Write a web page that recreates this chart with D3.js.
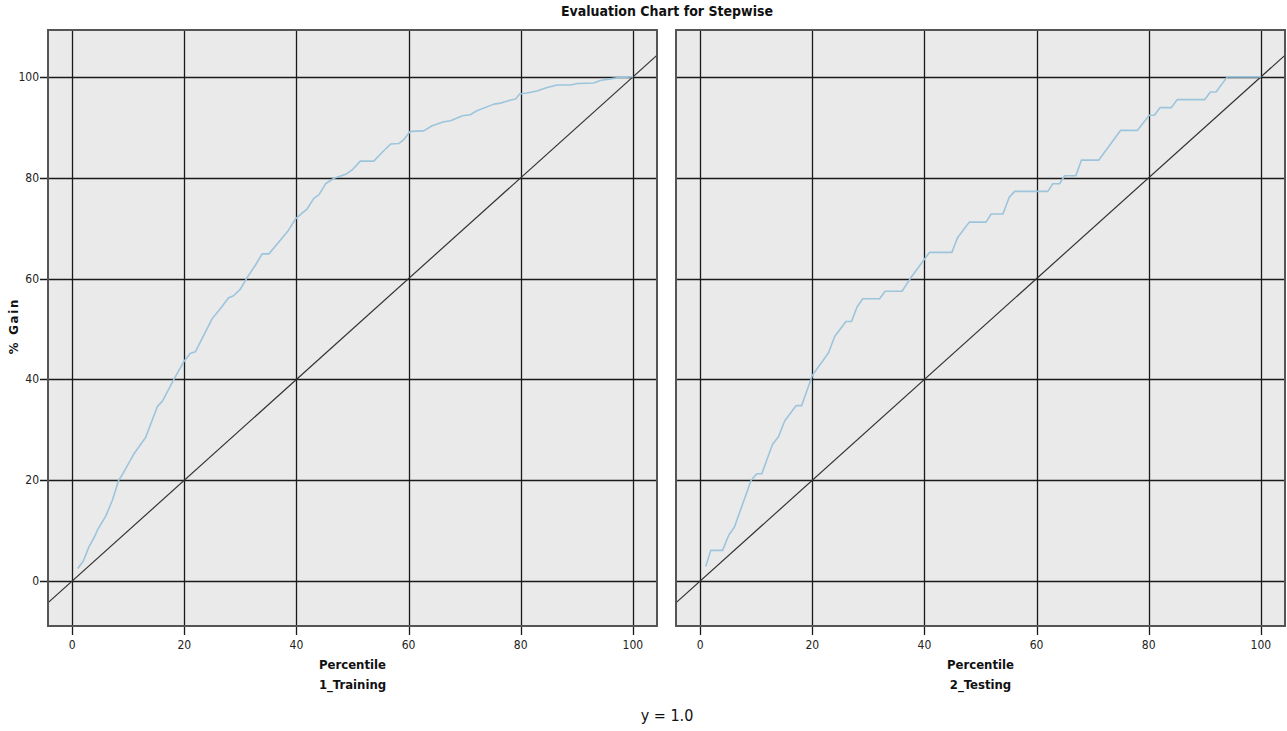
<!DOCTYPE html>
<html>
<head>
<meta charset="utf-8">
<script src="https://cdn.jsdelivr.net/npm/d3@7"></script>
<style>
  body { margin: 0; background: #fff; }
  svg text { font-family: "DejaVu Sans Condensed", "DejaVu Sans", sans-serif; fill: #111; }
</style>
</head>
<body>
<svg id="canvas" width="1287" height="731"></svg>
<script>
// ---- data ----
let panelNames = ['1_Training', '2_Testing']
let xTicks = [0, 20, 40, 60, 80, 100]
let yTicks = [0, 20, 40, 60, 80, 100]

let trainPct  = [1, 2, 3, 4, 4.5, 6, 7.2, 8.3, 8.9, 11, 13.1, 15.2, 16.1, 18.1, 19.9, 21.1, 22, 25, 26.5, 27.9, 28.8, 30, 31.2, 32.7, 33.9, 35.1, 38.6, 39.8, 41, 41.9, 43.1, 44, 45.2, 46.7, 48.8, 49.9, 51.4, 53.8, 55, 56.8, 58.3, 59.1, 60.3, 62.7, 64.2, 66.3, 67.5, 69.6, 71, 72.2, 75.2, 76.4, 78.2, 79.1, 79.8, 81.1, 82.9, 84.7, 86.5, 88.9, 90.1, 93, 94.2, 96, 97.8, 99.6, 100]
let trainGain = [2.5, 4, 6.8, 8.8, 10.1, 12.9, 16.1, 20, 21, 25.2, 28.5, 34.6, 35.7, 39.9, 43.5, 45.2, 45.5, 52.1, 54.1, 56.2, 56.6, 57.9, 60.2, 62.7, 64.9, 64.9, 69.6, 71.8, 73, 73.8, 75.9, 76.6, 78.8, 79.9, 80.7, 81.5, 83.3, 83.3, 84.7, 86.7, 86.8, 87.5, 89.2, 89.3, 90.3, 91.1, 91.3, 92.3, 92.5, 93.3, 94.6, 94.8, 95.4, 95.6, 96.6, 96.8, 97.2, 97.9, 98.4, 98.4, 98.7, 98.8, 99.3, 99.6, 99.9, 100, 100]

let testPct  = [1, 1.9, 4, 5.1, 6.1, 9.1, 10.1, 11, 12.9, 14, 15.1, 17.1, 18.1, 20, 20.4, 22.9, 24, 26, 27, 28, 29, 32, 33, 36, 37.6, 40.9, 44.9, 45.9, 48, 51, 51.9, 54, 55.1, 56.1, 62, 62.9, 64.1, 65, 67, 68, 71.1, 75, 78, 80.1, 81, 82, 84, 85.1, 90, 91, 92, 94, 100]
let testGain = [2.9, 6.1, 6.1, 9.1, 10.7, 20, 21.3, 21.3, 27.1, 28.7, 31.8, 34.8, 34.8, 40.8, 41.4, 45.3, 48.5, 51.5, 51.5, 54.4, 56, 56, 57.5, 57.5, 60.2, 65.2, 65.2, 68.1, 71.2, 71.2, 72.8, 72.8, 76.1, 77.3, 77.3, 78.8, 78.8, 80.4, 80.4, 83.5, 83.5, 89.4, 89.4, 92.4, 92.4, 93.9, 93.9, 95.5, 95.5, 97, 97, 100, 100]

let gainSeries = [
    trainPct.map((p, i) => [p, trainGain[i]]),
    testPct.map((p, i) => [p, testGain[i]])
]

let canvas = d3.select('#canvas')

// panel placement
let panelLeft = [48, 676]
let panelWidth = 609
let panelTop = 30
let panelHeight = 596

let yScale = d3.scaleLinear().domain([-8.9, 109.3]).range([panelTop + panelHeight, panelTop])

canvas.append('text')
      .text('Evaluation Chart for Stepwise')
      .attr('x', 667)
      .attr('y', 16)
      .attr('text-anchor', 'middle')
      .style('font-size', '14px')
      .style('font-weight', 'bold')

// y title is spaced out like in the original
canvas.append('text')
      .text('% Gain')
      .attr('transform', 'translate(18,' + 326 + ') rotate(-90)')
      .attr('text-anchor', 'middle')
      .style('font-size', '13px')
      .style('font-weight', 'bold')
      .style('letter-spacing', '1.8px')

canvas.append('text')
      .text('y = 1.0')
      .attr('x', 667)
      .attr('y', 721)
      .attr('text-anchor', 'middle')
      .style('font-size', '16px')

panelNames.forEach((name, k) => {
    let x0 = panelLeft[k]
    let xScale = d3.scaleLinear().domain([-4.3, 104.3]).range([x0, x0 + panelWidth])
    let g = canvas.append('g')

    g.append('rect')
     .attr('x', x0)
     .attr('y', panelTop)
     .attr('width', panelWidth)
     .attr('height', panelHeight)
     .attr('fill', '#eaeaea')

    // grid lines that also stick out as ticks
    g.selectAll('.vgrid')
     .data(xTicks)
     .enter()
     .append('line')
     .attr('x1', d => Math.round(xScale(d)) + 0.5)
     .attr('x2', d => Math.round(xScale(d)) + 0.5)
     .attr('y1', panelTop)
     .attr('y2', panelTop + panelHeight + 9)
     .attr('stroke', '#1a1a1a')
     .attr('stroke-width', 1.3)

    g.selectAll('.hgrid')
     .data(yTicks)
     .enter()
     .append('line')
     .attr('x1', k == 0 ? x0 - 8 : x0)
     .attr('x2', x0 + panelWidth)
     .attr('y1', d => Math.round(yScale(d)) + 0.5)
     .attr('y2', d => Math.round(yScale(d)) + 0.5)
     .attr('stroke', '#1a1a1a')
     .attr('stroke-width', 1.3)

    // diagonal reference line y = x, clipped to the panel
    let clipId = 'clip' + k
    g.append('clipPath')
     .attr('id', clipId)
     .append('rect')
     .attr('x', x0)
     .attr('y', panelTop)
     .attr('width', panelWidth)
     .attr('height', panelHeight)

    g.append('line')
     .attr('clip-path', 'url(#' + clipId + ')')
     .attr('x1', xScale(-10))
     .attr('y1', yScale(-10))
     .attr('x2', xScale(110))
     .attr('y2', yScale(110))
     .attr('stroke', '#333')
     .attr('stroke-width', 1.2)

    let line = d3.line()
                 .x(d => xScale(d[0]))
                 .y(d => yScale(d[1]))

    g.append('path')
     .datum(gainSeries[k])
     .attr('d', line)
     .attr('fill', 'none')
     .attr('stroke', '#9cc5dc')
     .attr('stroke-width', 1.6)
     .attr('stroke-linejoin', 'round')

    // frame
    g.append('rect')
     .attr('x', x0)
     .attr('y', panelTop)
     .attr('width', panelWidth)
     .attr('height', panelHeight)
     .attr('fill', 'none')
     .attr('stroke', '#555')
     .attr('stroke-width', 2)

    // x tick labels
    g.selectAll('.xlab')
     .data(xTicks)
     .enter()
     .append('text')
     .text(d => d)
     .attr('x', d => xScale(d))
     .attr('y', panelTop + panelHeight + 23)
     .attr('text-anchor', 'middle')
     .style('font-size', '12px')
     .style('fill', '#222')

    if (k == 0) {
        g.selectAll('.ylab')
         .data(yTicks)
         .enter()
         .append('text')
         .text(d => d)
         .attr('x', x0 - 9)
         .attr('y', d => yScale(d) + 4)
         .attr('text-anchor', 'end')
         .style('font-size', '12px')
         .style('fill', '#222')
    }

    let cx = x0 + panelWidth / 2
    g.append('text')
     .text('Percentile')
     .attr('x', cx)
     .attr('y', 669)
     .attr('text-anchor', 'middle')
     .style('font-size', '13px')
     .style('font-weight', 'bold')

    g.append('text')
     .text(name)
     .attr('x', cx)
     .attr('y', 689)
     .attr('text-anchor', 'middle')
     .style('font-size', '13px')
     .style('font-weight', 'bold')
})
</script>
</body>
</html>
